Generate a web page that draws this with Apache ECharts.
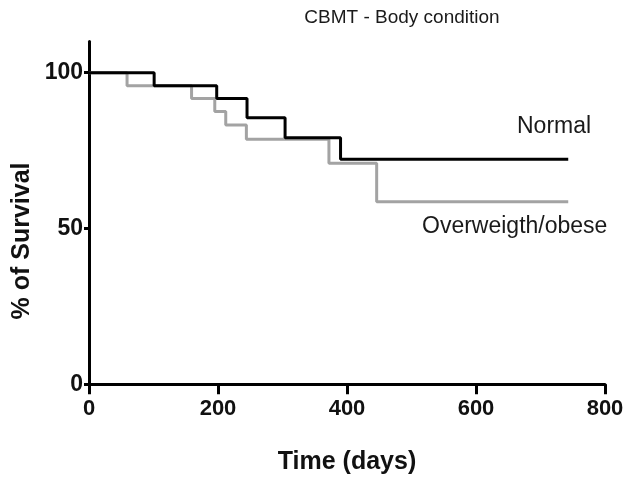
<!DOCTYPE html>
<html>
<head>
<meta charset="utf-8">
<script src="https://cdn.jsdelivr.net/npm/echarts@6/dist/echarts.min.js"></script>
<style>html,body{margin:0;padding:0;background:#fff}#c{width:630px;height:481px}</style>
</head>
<body>
<div id="c"></div>
<script>
// Kaplan-Meier steps: [day, % survival]
var normalDays     = [0, 101, 198, 245, 304, 390, 743];
var normalSurv     = [100, 95.8, 91.7, 85.5, 79.1, 72.2, 72.2];
var overweightDays = [0, 59, 159, 195, 212, 244, 372, 446, 743];
var overweightSurv = [100, 95.8, 91.7, 87.5, 83.2, 78.6, 70.9, 58.6, 58.6];
var xTicks = [0, 200, 400, 600, 800];
var yTicks = [0, 50, 100];
var seriesNames = ['Normal', 'Overweigth/obese'];

function pairs(xs, ys){ return xs.map(function(x,i){ return [x, ys[i]]; }); }

var chart = echarts.init(document.getElementById('c'), null, {renderer:'canvas'});
var FONT = 'Liberation Sans, Arial, sans-serif';
chart.setOption({
  animation: false,
  backgroundColor: '#fff',
  title: {
    text: 'CBMT - Body condition',
    left: 397, top: 3, textAlign: 'center',
    textStyle: {fontFamily: FONT, fontWeight: 'normal', fontSize: 19, color: '#1a1a1a'}
  },
  grid: {left: 89, right: 25, top: 41.5, bottom: 96.7, containLabel: false},
  xAxis: {
    type: 'value', min: 0, max: 800, interval: 200,
    name: 'Time (days)', nameLocation: 'middle', nameGap: 65,
    nameTextStyle: {fontFamily: FONT, fontWeight: 'bold', fontSize: 25, color: '#111'},
    axisLine: {show: true, onZero: false, lineStyle: {color: '#000', width: 3}},
    axisTick: {show: true, length: 10, lineStyle: {color: '#000', width: 3}},
    axisLabel: {fontFamily: FONT, fontWeight: 'bold', fontSize: 22, color: '#111', margin: 14,
      formatter: function(v){ return xTicks.indexOf(v) >= 0 ? String(v) : ''; }},
    splitLine: {show: false}
  },
  yAxis: {
    type: 'value', min: 0, max: 110, interval: 50,
    axisLine: {show: true, lineStyle: {color: '#000', width: 3}},
    axisTick: {show: true, length: 5, lineStyle: {color: '#000', width: 3},
      customValues: yTicks},
    axisLabel: {fontFamily: FONT, fontWeight: 'bold', fontSize: 23, color: '#111', margin: 6,
      customValues: yTicks},
    splitLine: {show: false}
  },
  series: [
    {
      name: seriesNames[0], type: 'line', step: 'end', showSymbol: false,
      data: pairs(normalDays, normalSurv), z: 3,
      lineStyle: {color: '#000', width: 3}
    },
    {
      name: seriesNames[1], type: 'line', step: 'end', showSymbol: false,
      data: pairs(overweightDays, overweightSurv), z: 2,
      lineStyle: {color: '#a3a3a3', width: 3}
    }
  ],
  graphic: [
    {type: 'text', x: 22, y: 241, rotation: Math.PI / 2,
      style: {text: '% of Survival', font: 'bold 25px ' + FONT, fill: '#111',
        textAlign: 'center', textVerticalAlign: 'middle'}},
    {type: 'text', left: 517, top: 115,
      style: {text: seriesNames[0], font: 'normal 23px ' + FONT, fill: '#1a1a1a'}},
    {type: 'text', left: 422, top: 215,
      style: {text: seriesNames[1], font: 'normal 23px ' + FONT, fill: '#1a1a1a'}}
  ]
});
</script>
</body>
</html>
